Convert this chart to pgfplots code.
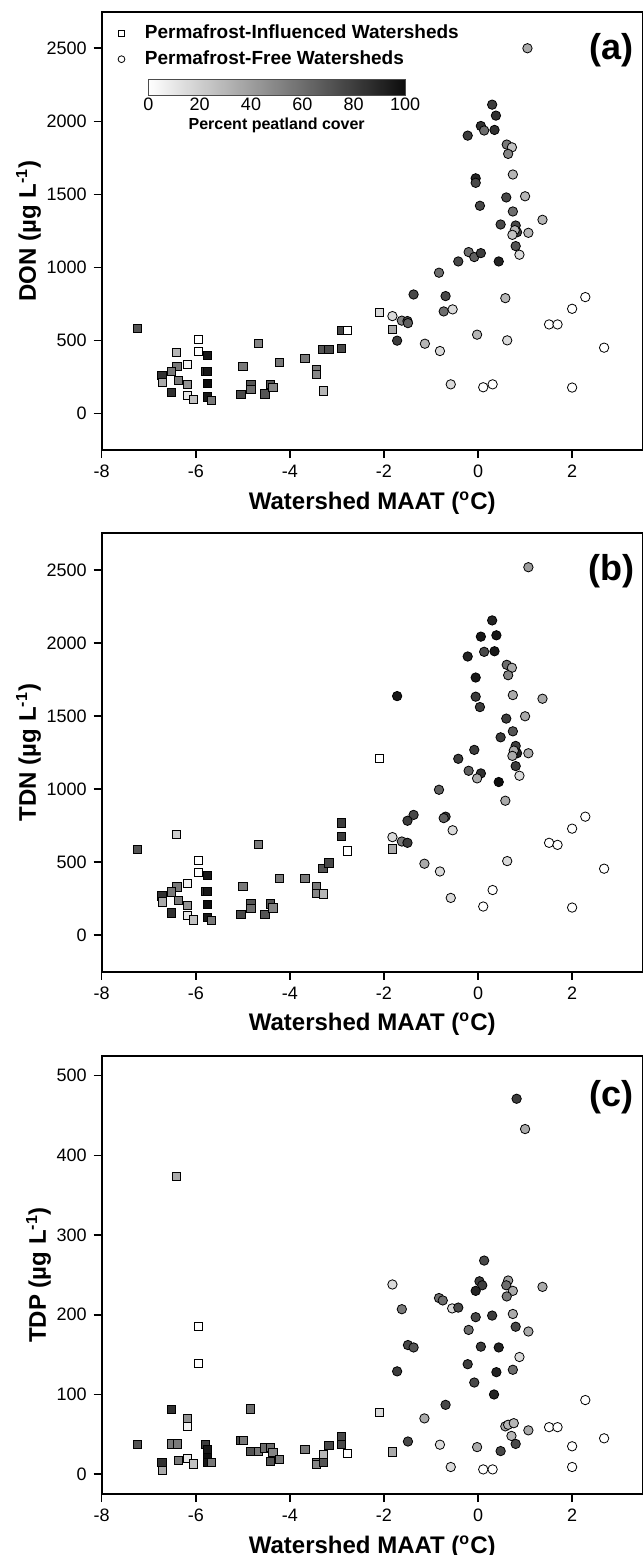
\documentclass[border=0pt]{standalone}
\usepackage{fontspec}
\setmainfont{Liberation Sans}
\usepackage{pgfplots}
\usepackage{pgfplotstable}
\pgfplotsset{compat=1.18}

% x = watershed MAAT, y = concentration, p = percent peatland cover
\pgfplotstableread{
x y p
-7.24 581 70
-5.95 506 0
-5.95 426 0
-6.41 417 30
-5.76 398 95
-6.18 337 5
-6.40 323 55
-6.52 289 55
-5.80 287 80
-5.76 287 95
-6.72 262 85
-6.71 216 35
-6.37 228 55
-6.18 198 45
-5.76 205 100
-6.52 143 85
-6.18 127 10
-6.05 98 25
-5.76 114 95
-5.66 91 55
-5.00 323 55
-4.67 478 50
-5.04 132 75
-4.83 200 70
-4.83 165 60
-4.53 134 70
-4.41 200 70
-4.36 178 50
-4.22 351 55
-3.68 376 55
-3.43 301 55
-3.43 269 50
-3.28 155 30
-3.30 440 70
-3.17 437 75
-2.90 446 75
-2.91 569 75
-2.78 569 0
-2.09 692 15
-1.82 578 35
}\donsq
\pgfplotstableread{
x y p
-1.82 667 15
-1.62 636 50
-1.50 633 75
-1.49 619 65
-1.72 499 80
-1.37 815 75
-1.13 478 30
0.30 2114 80
0.38 2039 85
0.06 1968 85
0.13 1937 60
0.35 1941 85
-0.22 1902 80
0.61 1841 55
0.72 1822 25
0.64 1777 50
0.74 1636 30
-0.05 1610 90
-0.05 1579 75
0.60 1479 75
1.00 1487 30
0.04 1422 75
0.74 1383 60
1.37 1326 30
0.48 1294 75
0.80 1287 75
0.83 1241 80
0.78 1255 30
0.73 1223 25
1.07 1237 30
0.80 1146 70
0.88 1087 15
-0.20 1105 60
-0.08 1071 65
0.06 1098 80
-0.42 1041 75
0.44 1041 90
-0.83 964 60
-0.69 804 75
0.58 790 30
-0.73 699 60
-0.54 713 15
-0.81 428 15
-0.02 540 30
0.62 501 15
-0.58 200 15
0.11 180 0
0.31 200 0
2.00 178 0
1.51 610 0
1.69 610 0
2.00 717 0
2.28 797 0
2.68 451 0
1.05 2500 35
}\donci
\pgfplotstableread{
x y p
-7.24 589 70
-6.41 689 20
-4.67 623 55
-5.95 514 0
-5.95 432 0
-5.76 409 95
-6.18 357 5
-6.40 330 55
-6.52 296 55
-5.80 300 80
-5.76 300 95
-6.72 269 85
-6.71 228 35
-6.37 239 55
-6.18 205 45
-5.76 209 100
-6.52 153 85
-6.18 134 10
-6.05 105 25
-5.76 121 95
-5.66 100 55
-5.00 334 55
-5.04 141 75
-4.83 214 70
-4.83 182 60
-4.53 141 70
-4.41 214 70
-4.36 187 50
-4.22 391 55
-3.68 391 55
-3.43 330 55
-3.43 284 50
-3.28 282 30
-3.30 455 70
-3.17 494 75
-2.90 678 80
-2.90 768 80
-2.78 577 0
-2.09 1209 0
-1.82 591 35
}\tdnsq
\pgfplotstableread{
x y p
-1.72 1636 95
-1.37 823 75
-1.50 783 80
-1.82 671 15
-1.62 641 55
-1.50 632 80
-1.14 489 35
1.07 2518 40
0.30 2154 90
0.06 2043 95
0.39 2052 95
0.13 1939 75
0.35 1943 95
-0.22 1907 90
0.61 1850 60
0.72 1830 35
0.64 1779 50
-0.05 1763 95
-0.05 1632 80
0.74 1643 35
1.37 1618 35
0.04 1561 80
0.60 1482 80
1.00 1498 35
0.74 1395 70
0.48 1354 80
0.80 1295 80
0.83 1245 90
0.76 1263 35
0.73 1227 35
1.07 1245 35
-0.08 1268 80
-0.42 1207 80
0.80 1157 80
0.88 1091 15
-0.20 1125 65
0.06 1107 85
-0.02 1073 35
0.44 1048 100
-0.83 995 65
-0.69 811 80
-0.73 801 65
-0.54 718 15
0.58 920 35
-0.81 436 15
0.62 507 15
-0.58 255 15
0.11 196 0
0.31 309 0
2.00 189 0
1.51 632 0
1.69 618 0
2.00 729 0
2.28 811 0
2.68 455 0
}\tdnci
\pgfplotstableread{
x y p
-6.41 374 35
-5.95 185 0
-5.95 139 0
-6.52 81 85
-4.84 82 60
-6.18 70 45
-6.18 60 5
-7.24 37 70
-6.52 38 55
-6.39 38 55
-6.72 15 85
-6.71 5 35
-6.37 17 55
-6.18 20 10
-6.05 13 25
-5.80 37 80
-5.76 31 95
-5.76 21 100
-5.76 15 95
-5.66 15 55
-5.04 42 75
-4.98 42 55
-4.83 29 70
-4.67 29 55
-4.53 33 60
-4.41 34 60
-4.36 27 50
-4.41 16 70
-4.22 19 55
-3.68 31 55
-3.43 15 55
-3.43 12 50
-3.28 25 30
-3.28 15 70
-3.17 36 75
-2.90 47 75
-2.90 37 75
-2.78 26 0
-2.09 78 15
-1.82 28 35
}\tdpsq
\pgfplotstableread{
x y p
-1.82 238 15
-1.62 207 55
-1.49 162 75
-1.37 159 70
-1.72 129 80
-1.14 70 35
-1.49 41 75
0.82 471 80
1.00 433 35
0.13 268 75
0.03 242 80
0.09 237 80
-0.05 230 90
0.64 243 40
0.60 237 60
0.74 230 35
1.37 235 35
0.61 223 55
-0.83 221 60
-0.75 218 60
-0.55 208 15
-0.42 209 75
-0.05 197 75
0.30 199 80
0.74 201 35
0.80 185 75
1.07 179 35
-0.20 181 60
0.06 160 80
0.44 159 90
0.88 147 15
-0.22 138 80
0.39 128 90
0.74 131 60
-0.08 115 75
0.34 100 90
-0.69 87 75
2.28 93 0
0.58 60 35
0.64 62 30
0.76 64 30
0.71 48 30
1.07 55 35
0.80 38 75
1.51 59 0
1.69 59 0
2.68 45 0
2.00 35 0
2.00 9 0
-0.81 37 15
-0.02 34 35
0.48 29 75
-0.58 9 15
0.11 6 0
0.31 6 0
}\tdpci

\pgfplotsset{
  /pgf/number format/assume math mode=true,
  /pgf/number format/1000 sep={},
  panel/.style={
    width=270.5pt, height=219.2pt, scale only axis,
    xmin=-8, xmax=3.5, xtick={-8,-6,-4,-2,0,2},
    axis line style={line width=0.9pt},
    tick align=outside, tick pos=left,
    major tick length=4pt,
    major tick style={line width=0.8pt, black},
    tick label style={font=\fontsize{9}{10}\selectfont},
    label style={font=\bfseries\fontsize{12}{14}\selectfont},
    ylabel shift=-4pt,
    xlabel={Watershed MAAT (\textsuperscript{o}C)},
    colormap={peat}{gray(0cm)=(1); gray(1cm)=(0.05)},
    point meta min=0, point meta max=100,
  },
  sq/.style={scatter, only marks, mark=square*, mark size=2.05pt,
    point meta=explicit,
    scatter/use mapped color={draw=black, fill=mapped color, line width=0.4pt},
    forget plot},
  ci/.style={scatter, only marks, mark=*, mark size=2.35pt,
    point meta=explicit,
    scatter/use mapped color={draw=black, fill=mapped color, line width=0.4pt},
    forget plot},
}
\tikzset{plab/.style={font=\bfseries\fontsize{18}{20}\selectfont}}

\begin{document}
\begin{tikzpicture}
  % (a) DON
  \begin{axis}[panel, at={(0,0)}, anchor=north west,
      ymin=-250, ymax=2750, ytick={0,500,...,2500},
      ylabel={DON (µg L\textsuperscript{-1})},
      colorbar horizontal,
      colorbar style={
        at={(0.0861,0.8464)}, anchor=north west,
        width=128.4pt, height=8pt, scale only axis,
        xtick={0,20,...,100}, xticklabel pos=lower,
        major tick length=0pt,
        axis line style={line width=0.4pt, black!70},
        tick label style={font=\fontsize{9}{10}\selectfont, inner sep=1pt},
        xlabel={Percent peatland cover},
        xlabel style={font=\bfseries\fontsize{8}{9}\selectfont, inner sep=1pt, yshift=-1.5pt},
      },
      legend style={at={(0.0037,0.977)}, anchor=north west, xshift=7pt,
        draw=none, fill=none,
        inner sep=0pt, row sep=2pt, /tikz/column sep=9pt,
        font=\bfseries\fontsize{9.5}{11}\selectfont,
        nodes={inner sep=1pt, text height=7pt, text depth=2pt}},
      legend cell align=left,
    ]
    \addlegendimage{only marks, mark=square, mark size=1.6pt, mark options={draw=black, line width=0.4pt}}
    \addlegendentry{Permafrost-Influenced Watersheds}
    \addlegendimage{only marks, mark=o, mark size=1.7pt, mark options={draw=black, line width=0.4pt}}
    \addlegendentry{Permafrost-Free Watersheds}
    \addplot[sq] table[x=x, y=y, meta=p] {\donsq};
    \addplot[ci] table[x=x, y=y, meta=p] {\donci};
    \node[plab] at (rel axis cs:0.943,0.913) {(a)};
  \end{axis}

  % (b) TDN
  \begin{axis}[panel, at={(0,-260.8pt)}, anchor=north west,
      ymin=-250, ymax=2750, ytick={0,500,...,2500},
      ylabel={TDN (µg L\textsuperscript{-1})},
    ]
    \addplot[sq] table[x=x, y=y, meta=p] {\tdnsq};
    \addplot[ci] table[x=x, y=y, meta=p] {\tdnci};
    \node[plab] at (rel axis cs:0.943,0.913) {(b)};
  \end{axis}

  % (c) TDP
  \begin{axis}[panel, at={(0,-522pt)}, anchor=north west,
      ymin=-25, ymax=525, ytick={0,100,...,500},
      ylabel={TDP (µg L\textsuperscript{-1})},
    ]
    \addplot[sq] table[x=x, y=y, meta=p] {\tdpsq};
    \addplot[ci] table[x=x, y=y, meta=p] {\tdpci};
    \node[plab] at (rel axis cs:0.943,0.906) {(c)};
  \end{axis}

  \pgfresetboundingbox
  \path[use as bounding box] (-50.85pt,5.85pt) rectangle (270.65pt,-771.65pt);
\end{tikzpicture}
\end{document}
